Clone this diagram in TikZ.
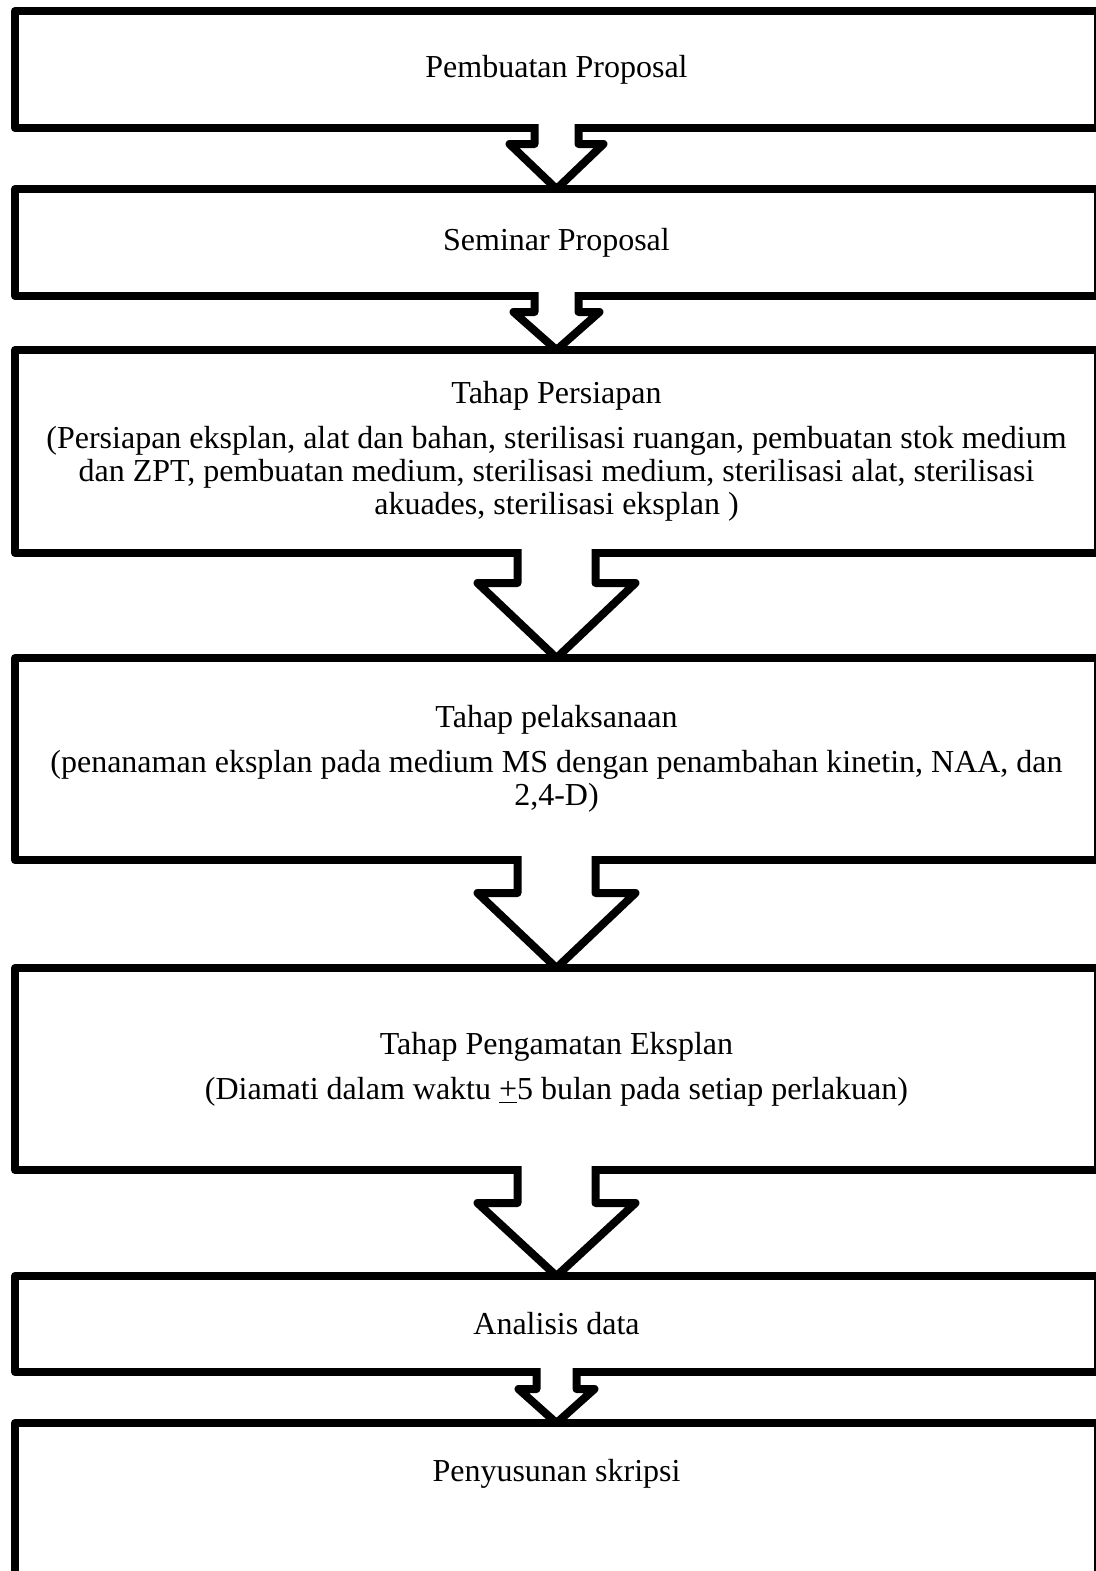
\documentclass[tikz,border=0pt]{standalone}
\usepackage{fontspec}
\setmainfont{Liberation Serif}
\usetikzlibrary{positioning,shadows}
\tikzset{
    stage/.style={rectangle, draw=black, fill=white, line width=4pt, line join=round, outer sep=0pt,
      minimum width=541.5pt, align=center, font=\fontsize{16}{16.5}\selectfont,
      drop shadow={shadow xshift=0.4pt, shadow yshift=-1.2pt, opacity=0.2}},
    pil/.style={draw=black, line width=4pt, line join=round}
}
% #1 from, #2 to, #3 half stem, #4 head overhang, #5 stem length, #6 head height
\newcommand{\flowarrow}[6]{%
  \fill[white] ([yshift=2pt]#1.south) ++(-#3,0) -- ++(0,#5) -- ++(-#4,0) -- (#2.north)
    -- ++({#3+#4},-#6) -- ++(-#4,0) -- ++(0,-#5) -- cycle;
  \draw[pil] ([yshift=2pt]#1.south) ++(-#3,0) -- ++(0,#5) -- ++(-#4,0) -- (#2.north)
    -- ++({#3+#4},-#6) -- ++(-#4,0) -- ++(0,-#5);
}

\begin{document}
\begin{tikzpicture}[x=0.5pt, y=-0.5pt]
    \useasboundingbox (0,0) rectangle (1096,1571);

    \node[stage, minimum height=58.5pt] (proposal) at (556.5,69.5) {Pembuatan Proposal};
    \node[stage, minimum height=53.5pt] (seminar) at (556.5,242.5) {Seminar Proposal};
    \node[stage, minimum height=101.5pt] (persiapan) at (556.5,451.5)
      {Tahap Persiapan\\[6pt]
      (Persiapan eksplan, alat dan bahan, sterilisasi ruangan, pembuatan stok medium\\
      dan ZPT, pembuatan medium, sterilisasi medium, sterilisasi alat, sterilisasi\\
      akuades, sterilisasi eksplan )};
    \node[stage, minimum height=101pt] (pelaksanaan) at (556.5,759)
      {Tahap pelaksanaan\\[6pt]
      (penanaman eksplan pada medium MS dengan penambahan kinetin, NAA, dan\\
      2,4-D)};
    \node[stage, minimum height=101pt] (pengamatan) at (556.5,1069)
      {Tahap Pengamatan Eksplan\\[6pt]
      (Diamati dalam waktu \underline{+}5 bulan pada setiap perlakuan)};
    \node[stage, minimum height=48pt] (analisis) at (556.5,1324) {Analisis data};
    \node[stage, anchor=north, text height=12pt, text depth=40pt, inner ysep=17pt] (skripsi)
      at (556.5,1423) {Penyusunan skripsi};

    \flowarrow{proposal}{seminar}{22}{25}{20}{45}
    \flowarrow{seminar}{persiapan}{22}{21}{20}{38}
    \flowarrow{persiapan}{pelaksanaan}{39}{40}{34}{75}
    \flowarrow{pelaksanaan}{pengamatan}{39}{40}{37}{75}
    \flowarrow{pengamatan}{analisis}{39}{40}{37}{73}
    \flowarrow{analisis}{skripsi}{20}{18}{21}{34}
\end{tikzpicture}
\end{document}
